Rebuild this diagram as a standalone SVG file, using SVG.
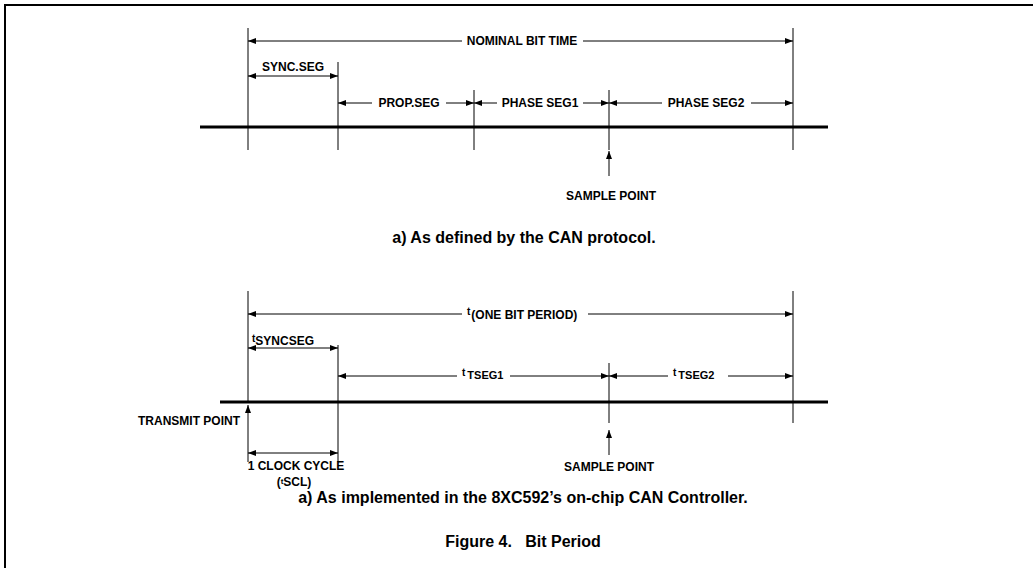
<svg xmlns="http://www.w3.org/2000/svg" width="1033" height="568" viewBox="0 0 1033 568">
<defs>
<style>
.t{font-family:"Liberation Sans",Arial,sans-serif;font-weight:bold;fill:#000}
.s{font-size:12px}
.c{font-size:16px}
.ln{stroke:#000;stroke-width:1;fill:none}
.base{stroke:#000;stroke-width:3;fill:none}
.dim{stroke:#000;stroke-width:1;fill:none}
</style>
<marker id="ah" viewBox="0 0 8 6" refX="8" refY="3" markerWidth="8" markerHeight="6" orient="auto-start-reverse" markerUnits="userSpaceOnUse"><path d="M0,0 L8,3 L0,6 z" fill="#000"/></marker>
</defs>
<rect width="1033" height="568" fill="#fff"/>
<path d="M5,568 L5,5 L1033,5" stroke="#000" stroke-width="2" fill="none"/>

<g id="top-diagram">
<g id="top-ticks">
<line class="ln" x1="248" y1="28" x2="248" y2="150"/>
<line class="ln" x1="338" y1="62" x2="338" y2="150"/>
<line class="ln" x1="474" y1="90" x2="474" y2="150"/>
<line class="ln" x1="609" y1="90" x2="609" y2="150"/>
<line class="ln" x1="793" y1="28" x2="793" y2="150"/>
<line class="base" x1="200" y1="127" x2="828" y2="127"/>
</g>
<g id="top-labels">
<text class="t s" x="522" y="45" text-anchor="middle">NOMINAL BIT TIME</text>
<text class="t s" x="293" y="71" text-anchor="middle">SYNC.SEG</text>
<text class="t s" x="409" y="107" text-anchor="middle">PROP.SEG</text>
<text class="t s" x="540" y="107" text-anchor="middle">PHASE SEG1</text>
<text class="t s" x="706" y="107" text-anchor="middle">PHASE SEG2</text>
<text class="t s" x="611" y="200" text-anchor="middle">SAMPLE POINT</text>
<text class="t c" x="524" y="243" text-anchor="middle">a) As defined by the CAN protocol.</text>
</g>
</g>

<g id="bottom-diagram">
<g id="bottom-ticks">
<line class="ln" x1="248" y1="291" x2="248" y2="402"/>
<line class="ln" x1="338" y1="345" x2="338" y2="462"/>
<line class="ln" x1="609" y1="363" x2="609" y2="423"/>
<line class="ln" x1="793" y1="291" x2="793" y2="423"/>
<line class="base" x1="220" y1="402" x2="828" y2="402"/>
</g>
<g id="bottom-labels">
<text class="t s" x="467" y="317"><tspan font-size="10" dy="-2">t</tspan><tspan font-size="12" dy="4" dx="1">(ONE BIT PERIOD)</tspan></text>
<text class="t s" x="252" y="344"><tspan font-size="10" dy="-2">t</tspan><tspan dy="3">SYNCSEG</tspan></text>
<text class="t s" x="462" y="378"><tspan font-size="10" dy="-2">t</tspan><tspan font-size="11" dy="3" dx="2">TSEG1</tspan></text>
<text class="t s" x="673" y="378"><tspan font-size="10" dy="-2">t</tspan><tspan font-size="11" dy="3" dx="2">TSEG2</tspan></text>
<text class="t s" x="240" y="425" text-anchor="end">TRANSMIT POINT</text>
<text class="t s" x="296" y="470" text-anchor="middle">1 CLOCK CYCLE</text>
<text class="t s" x="294" y="486" text-anchor="middle" font-size="11">(<tspan font-size="8" dy="-2">t</tspan><tspan dy="2">SCL</tspan>)</text>
<text class="t s" x="609" y="471" text-anchor="middle">SAMPLE POINT</text>
<text class="t c" x="523" y="503" text-anchor="middle">a) As implemented in the 8XC592’s on-chip CAN Controller.</text>
<text class="t c" x="523" y="547" text-anchor="middle" xml:space="preserve">Figure 4.   Bit Period</text>
</g>
</g>

<g id="connectors">
<line class="dim" x1="462" y1="41" x2="248" y2="41" marker-end="url(#ah)"/>
<line class="dim" x1="583" y1="41" x2="793" y2="41" marker-end="url(#ah)"/>
<line class="dim" x1="248" y1="76" x2="338" y2="76" marker-start="url(#ah)" marker-end="url(#ah)"/>
<line class="dim" x1="372" y1="103" x2="338" y2="103" marker-end="url(#ah)"/>
<line class="dim" x1="446" y1="103" x2="474" y2="103" marker-end="url(#ah)"/>
<line class="dim" x1="497" y1="103" x2="474" y2="103" marker-end="url(#ah)"/>
<line class="dim" x1="583" y1="103" x2="609" y2="103" marker-end="url(#ah)"/>
<line class="dim" x1="662" y1="103" x2="609" y2="103" marker-end="url(#ah)"/>
<line class="dim" x1="751" y1="103" x2="793" y2="103" marker-end="url(#ah)"/>
<line class="dim" x1="609" y1="176" x2="609" y2="151" marker-end="url(#ah)"/>

<line class="dim" x1="462" y1="314" x2="248" y2="314" marker-end="url(#ah)"/>
<line class="dim" x1="588" y1="314" x2="793" y2="314" marker-end="url(#ah)"/>
<line class="dim" x1="248" y1="348" x2="338" y2="348" marker-start="url(#ah)" marker-end="url(#ah)"/>
<line class="dim" x1="457" y1="376" x2="338" y2="376" marker-end="url(#ah)"/>
<line class="dim" x1="510" y1="376" x2="609" y2="376" marker-end="url(#ah)"/>
<line class="dim" x1="668" y1="376" x2="609" y2="376" marker-end="url(#ah)"/>
<line class="dim" x1="728" y1="376" x2="793" y2="376" marker-end="url(#ah)"/>
<line class="dim" x1="248" y1="462" x2="248" y2="405" marker-end="url(#ah)"/>
<line class="dim" x1="248" y1="453" x2="338" y2="453" marker-start="url(#ah)" marker-end="url(#ah)"/>
<line class="dim" x1="609" y1="455" x2="609" y2="430" marker-end="url(#ah)"/>
</g>
</svg>
